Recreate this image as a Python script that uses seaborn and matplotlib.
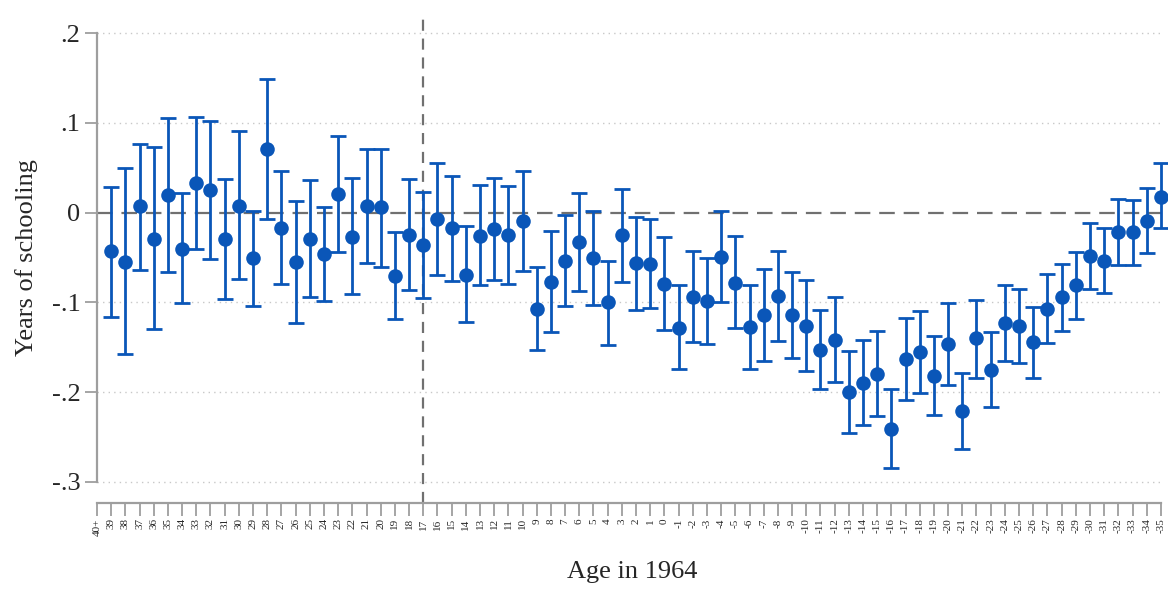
import numpy as np
import pandas as pd
import matplotlib
matplotlib.use("Agg")
import matplotlib.pyplot as plt
import seaborn as sns

# ---- data ----
tick_labels = ["40+", "39", "38", "37", "36", "35", "34", "33", "32", "31", "30",
               "29", "28", "27", "26", "25", "24", "23", "22", "21", "20",
               "19", "18", "17", "16", "15", "14", "13", "12", "11", "10",
               "9", "8", "7", "6", "5", "4", "3", "2", "1", "0",
               "-1", "-2", "-3", "-4", "-5", "-6", "-7", "-8", "-9", "-10",
               "-11", "-12", "-13", "-14", "-15", "-16", "-17", "-18", "-19", "-20",
               "-21", "-22", "-23", "-24", "-25", "-26", "-27", "-28", "-29", "-30",
               "-31", "-32", "-33", "-34", "-35"]

# point estimates for ages 39 ... -35 (40+ is the omitted group)
coef = [-0.043, -0.055, 0.007, -0.029, 0.020, -0.040, 0.033, 0.025, -0.029, 0.008,
        -0.051, 0.071, -0.017, -0.055, -0.029, -0.046, 0.021, -0.027, 0.008, 0.006,
        -0.071, -0.025, -0.036, -0.007, -0.017, -0.069, -0.026, -0.018, -0.025, -0.009,
        -0.107, -0.077, -0.054, -0.033, -0.051, -0.100, -0.025, -0.056, -0.057, -0.079,
        -0.129, -0.094, -0.098, -0.049, -0.078, -0.127, -0.114, -0.093, -0.114, -0.126,
        -0.153, -0.142, -0.200, -0.190, -0.180, -0.241, -0.163, -0.155, -0.182, -0.146,
        -0.221, -0.140, -0.175, -0.123, -0.126, -0.144, -0.107, -0.094, -0.081, -0.048,
        -0.054, -0.022, -0.022, -0.009, 0.018]
ci_hi = [0.029, 0.050, 0.077, 0.073, 0.106, 0.022, 0.107, 0.102, 0.038, 0.091,
         0.002, 0.149, 0.047, 0.013, 0.036, 0.006, 0.086, 0.039, 0.071, 0.071,
         -0.022, 0.038, 0.023, 0.055, 0.041, -0.015, 0.031, 0.039, 0.030, 0.046,
         -0.060, -0.020, -0.003, 0.022, 0.002, -0.054, 0.026, -0.005, -0.007, -0.027,
         -0.081, -0.043, -0.050, 0.002, -0.026, -0.081, -0.063, -0.043, -0.066, -0.075,
         -0.109, -0.094, -0.154, -0.142, -0.132, -0.197, -0.117, -0.110, -0.137, -0.101,
         -0.179, -0.097, -0.133, -0.081, -0.085, -0.105, -0.068, -0.057, -0.044, -0.011,
         -0.017, 0.015, 0.014, 0.028, 0.055]
ci_lo = [-0.116, -0.158, -0.064, -0.130, -0.066, -0.101, -0.041, -0.052, -0.096, -0.074,
         -0.104, -0.007, -0.080, -0.123, -0.094, -0.098, -0.044, -0.091, -0.056, -0.060,
         -0.119, -0.086, -0.095, -0.069, -0.076, -0.122, -0.081, -0.075, -0.080, -0.065,
         -0.153, -0.133, -0.104, -0.087, -0.103, -0.147, -0.077, -0.108, -0.106, -0.131,
         -0.174, -0.144, -0.146, -0.100, -0.128, -0.174, -0.165, -0.143, -0.162, -0.176,
         -0.197, -0.189, -0.246, -0.237, -0.227, -0.285, -0.209, -0.201, -0.226, -0.192,
         -0.263, -0.184, -0.217, -0.165, -0.167, -0.184, -0.145, -0.132, -0.118, -0.085,
         -0.090, -0.058, -0.058, -0.045, -0.017]
y_ticks = [0.2, 0.1, 0.0, -0.1, -0.2, -0.3]
y_tick_labels = [".2", ".1", "0", "-.1", "-.2", "-.3"]
ref_age = "17"

# ---- figure ----
sns.set_style("white")
plt.rcParams["font.family"] = ["Liberation Serif", "DejaVu Serif"]

BLUE = "#0a56b8"
GRAY = "#9e9e9e"

df = pd.DataFrame({
    "age": tick_labels[1:],
    "pos": np.arange(1, len(tick_labels)),
    "coef": coef,
    "lo": ci_lo,
    "hi": ci_hi,
})

fig = plt.figure(figsize=(11.68, 5.89), dpi=100)
ax = fig.add_axes([97 / 1168, 86 / 589, (1168 - 97) / 1168, (503 - 12) / 589])

# reference lines
for yv in y_ticks:
    if yv != 0:
        ax.plot([0, 75], [yv, yv], color="#c8c8c8", lw=1.0, ls=(0, (1, 3)), zorder=0)
ax.plot([0, 75], [0, 0], color="#707070", lw=1.6, ls=(0, (7, 4)), zorder=1)
ax.axvline(tick_labels.index(ref_age), color="#707070", lw=1.6, ls=(0, (5, 3.5)), zorder=1)

# confidence intervals
ax.errorbar(df["pos"], df["coef"],
            yerr=[df["coef"] - df["lo"], df["hi"] - df["coef"]],
            fmt="none", ecolor=BLUE, elinewidth=2.0, capsize=5.5, capthick=2.0, zorder=2)
# point estimates
sns.scatterplot(data=df, x="pos", y="coef", ax=ax, color=BLUE, s=110,
                edgecolor=BLUE, linewidth=0, zorder=3, legend=False)

ax.set_xlim(0, 75.5)
ax.set_ylim(-0.3236, 0.2237)

ax.set_xticks(np.arange(len(tick_labels)))
ax.set_xticklabels(tick_labels, rotation=90, fontsize=8)
ax.set_yticks(y_ticks)
ax.set_yticklabels(y_tick_labels, fontsize=19)

for side in ["top", "right"]:
    ax.spines[side].set_visible(False)
ax.spines["left"].set_bounds(-0.3, 0.2)
ax.spines["bottom"].set_bounds(0, 75)
for side in ["left", "bottom"]:
    ax.spines[side].set_color(GRAY)
    ax.spines[side].set_linewidth(1.6)

ax.tick_params(axis="both", which="major", direction="out", color=GRAY,
               length=9, width=1.3, left=True, bottom=True)
ax.tick_params(axis="y", pad=3)
ax.tick_params(axis="x", pad=2)

ax.set_ylabel("Years of schooling", fontsize=19, labelpad=10)
ax.set_xlabel("Age in 1964", fontsize=19, labelpad=18)

fig.savefig("out.png", dpi=100)
